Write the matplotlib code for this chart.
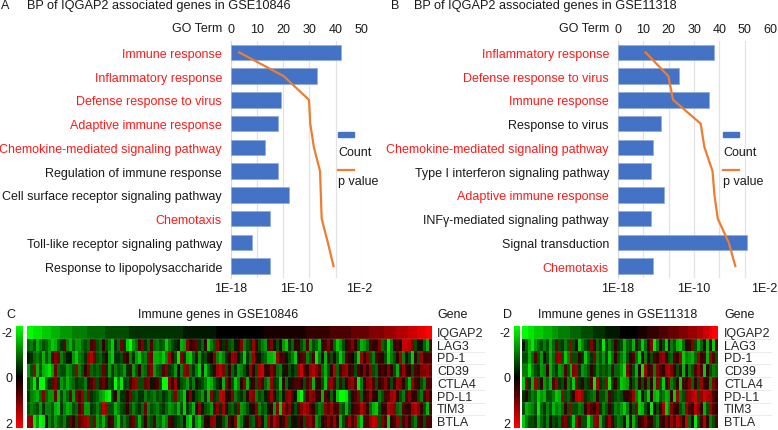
import numpy as np
import matplotlib
matplotlib.use("Agg")
import matplotlib.pyplot as plt
from matplotlib.colors import LinearSegmentedColormap
from matplotlib.lines import Line2D
from matplotlib.patches import Rectangle
from matplotlib.ticker import NullLocator
from matplotlib.transforms import ScaledTranslation

plt.rcParams['font.family'] = ['Liberation Sans', 'DejaVu Sans']
W, H = 778, 431
FS = 9.0

terms_a = ["Immune response", "Inflammatory response", "Defense response to virus",
           "Adaptive immune response", "Chemokine-mediated signaling pathway",
           "Regulation of immune response", "Cell surface receptor signaling pathway",
           "Chemotaxis", "Toll-like receptor signaling pathway", "Response to lipopolysaccharide"]
red_a = [1, 1, 1, 1, 1, 0, 0, 1, 0, 0]
count_a = [42, 33, 19, 18, 13, 18, 22, 15, 8, 15]
logp_a = [-17.0, -11.55, -8.45, -8.3, -7.85, -7.1, -7.0, -6.9, -6.15, -5.45]

terms_b = ["Inflammatory response", "Defense response to virus", "Immune response",
           "Response to virus", "Chemokine-mediated signaling pathway",
           "Type I interferon signaling pathway", "Adaptive immune response",
           "INF\u03b3-mediated signaling pathway", "Signal transduction", "Chemotaxis"]
red_b = [1, 1, 1, 0, 1, 0, 1, 0, 0, 1]
count_b = [38, 24, 36, 17, 14, 13, 18, 13, 51, 14]
logp_b = [-15.1, -12.7, -12.2, -9.3, -8.9, -8.05, -7.85, -7.5, -6.35, -5.65]

genes = ["IQGAP2", "LAG3", "PD-1", "CD39", "CTLA4", "PD-L1", "TIM3", "BTLA"]

# a = -2 (green) ... k = 0 (black) ... u = 2 (red)
heat_c = [
 "aabbbcccdddeeeefffffgggggghhhhhhhhiiiiiiiiiii" "iiiiiiijjjjjjjjjjjkkkkkkkkkkkkkkkklllllllllll" "lllmmmmmmmmnnnnnnnoooooopppppqqqqrrrrssstttuu",
 "gfhdfhgecdgiofdgeeghgnohgmhfcigoicaegnpigngfh" "gcfhimdepmnoigmcfhpminhgjmpfhiqmhfenpjhmecigm" "mhfnehgdmnpmgcehmnpmhdegnmmpghbfmnlssrphmjgdn",
 "jigfhdhenpofhjjecfgiqrohgimeciihnmfiecgfpodde" "cfqmhbpidcgneihmlpfdfimqpjhcigqmjhgddcqmnjhfc" "mnofhnbfmdnhmgcfnmlhcqmphfnmmhcfhmqfmhcmhqmnn",
 "ehqdhdcbeoghhefhqfhmpghghoieifhgeinehmfgopegh" "npihekfqpgifcncgimqrphmgiefhjqmhrsmmpngfjmhjh" "qsnmqrpngdhmrgnpqmnhnmpmqhgmnmpmhdnqmmhnmppqo",
 "hfbhaagiopiegdfgihhfmnphnomhiafbihnpqhhopjmnh" "aapmqjhgeifmihfcdgimdpmhcfmpdjmhpngeqihcmgjmn" "nmhnpdmmhcpqngnhmpqnbfmpqnhmnpmhmqpmhdqnmhfnn",
 "ifedgpgeeodhegoepnqgpihgedbaimeiimphgiifhgfhg" "ihfhpgfcmpjhgeidpihsrjmpfhigmqpfhgjnqmhfjpqnj" "cahnqpmmdnmgmcaabhmnpgmnqmmfhnnqrmhfnpmmhfnpm",
 "hfgheiffhdcifdehgnpeeihfhrqhhdfhimhfhigofhgfh" "igefgdhcigdmpjhgenpiqmhgipefhjmpfhgjmepcqnpjh" "nprqnmhfgpnqmnghdhmnnrpmgdchmmrqpgfnmmqrpmhdn",
 "qpbeabmfheghfiomhopqrhpegdhmnfchfhnohdhmghnfg" "dfnmihgmdbiecgmjpqjmhfnjpdfjmhgnpjfqnrpjnqhmj" "nmhpqnegmnpnqmdhnqmpfcnnqsrhpncmnqhnpmhfnmhnn",
]
heat_d = [
 "aabbcccdddeeffffgggghhhhiiiijjjjj" "kkkkkklllmmmmnnnoooopppqqqrrsstuu",
 "jgdbeghfhdgohifhqhmcfhipmgibifhmi" "hdghdnhcgmpbfmhcmfhdcgmmphdgmdncn",
 "hhdgnhemhdgpqhcfqhhmicgipfheicgmh" "fdhmngcmfmhnmpqmhgnmqcfedgqmndqnh",
 "ffbfhiefmdgiefnhdpqiefhmifhghfngg" "ebpmhdmbqmnfpnmqrpmhndmfhnqncmhfg",
 "cpidqhmegdnqihmfhcpimhinbqihqbimh" "cdemhfmhmgmdphcmpfhmcnmpgmhqmmfpn",
 "imhfgcedhhfcdqhgimrsqihgfmhhfnihg" "hmmnqfcmgcmdchfdemcqfhpqrshqsrqnm",
 "hdefhbgifhdfegmhqhhfgmpnmpifhmifg" "ecfmhpcdhmbmhmqcfpmmhfqnmrpmdhqnm",
 "cfhhidgifmhigopihcqnhhbfqpdhnqmhf" "gmcmdhmnpmmhfnmpmqnrpmsgmbhnrmfhn",
]


def px_axes(l, t, r, b):
    return fig.add_axes([l / W, 1 - b / H, (r - l) / W, (b - t) / H])


def ftext(x, y, s, **kw):
    kw.setdefault('fontsize', FS)
    kw.setdefault('va', 'center')
    kw.setdefault('color', '#1a1a1a')
    fig.text(x / W, 1 - y / H, s, **kw)


def go_panel(l, r, xmax, xticks, terms, reds, counts, logp, lx, lastshift):
    ax = px_axes(l, 41.5, r, 279)
    pos = np.arange(len(terms))
    ax.barh(pos, counts, height=0.66, color='#4472C4', edgecolor='#8FAADC', linewidth=0.5, zorder=3)
    ax.set_xlim(0, xmax)
    ax.set_ylim(len(terms) - 0.5, -0.5)
    ax.set_yticks(pos)
    ax.set_yticklabels(terms, fontsize=FS)
    ax.tick_params(axis='y', length=0, pad=6.5)
    for lab, rd in zip(ax.get_yticklabels(), reds):
        lab.set_color('#FF1A1A' if rd else '#1a1a1a')
    for s in ['top', 'right', 'bottom']:
        ax.spines[s].set_visible(False)
    ax.spines['left'].set_color('#D9D9D9')

    ax2 = ax.twiny()
    ax2.set_xscale('log')
    ax2.set_xlim(1e-18, 1e-2)
    ax2.plot([10.0 ** v for v in logp], pos, color='#ED7D31', lw=1.6, zorder=5)
    ax2.xaxis.tick_bottom()
    ax2.set_xticks([1e-18, 1e-10, 1e-2])
    ax2.set_xticklabels(['1E-18', '1E-10', '1E-2'], fontsize=FS, color='#1a1a1a')
    ax2.xaxis.set_minor_locator(NullLocator())
    ax2.tick_params(axis='x', which='both', length=0, pad=3)
    last = ax2.get_xticklabels()[-1]
    last.set_transform(last.get_transform() + ScaledTranslation(lastshift / 100, 0, fig.dpi_scale_trans))
    for s in ax2.spines.values():
        s.set_visible(False)

    ax.xaxis.tick_top()
    ax.set_xticks(list(xticks))
    ax.tick_params(axis='x', length=0, pad=4, labelsize=FS, labelcolor='#1a1a1a')
    ax.grid(axis='x', color='#E3E3E3', lw=0.9, zorder=0)
    ax.set_axisbelow(True)

    ftext(l - 8.5, 29, "GO Term", ha='right')
    fig.add_artist(Rectangle((lx / W, 1 - 138 / H), 16 / W, 5 / H, color='#4472C4', transform=fig.transFigure))
    ftext(lx, 153, "Count")
    fig.add_artist(Line2D([lx / W, (lx + 16) / W], [1 - 171 / H] * 2, color='#ED7D31', lw=1.6))
    ftext(lx, 182, "p value")


def heat_panel(l, r, cl, cr, rows, title, tx, gx, letter, letx):
    t, b = 327, 429
    n = min(len(s) for s in rows)
    data = np.array([[(ord(c) - ord('k')) / 5 for c in s[:n]] for s in rows])
    ax = px_axes(l, t, r, b)
    im = ax.imshow(data, cmap=cmap, vmin=-2, vmax=2, aspect='auto', interpolation='nearest')
    ax.set_xticks([])
    ax.set_yticks([])
    for y in np.arange(0.5, len(rows) - 0.5):
        ax.axhline(y, color='#999999', lw=0.35, alpha=0.6)
    for s in ax.spines.values():
        s.set_visible(False)
    cax = px_axes(cl, t, cr, b)
    cb = fig.colorbar(im, cax=cax)
    cax.invert_yaxis()
    cb.outline.set_visible(False)
    cax.yaxis.set_ticks_position('left')
    cb.set_ticks([-1.8, 0, 1.8], labels=['-2', '0', '2'])
    cax.tick_params(length=0, pad=2.5, labelsize=FS, labelcolor='#1a1a1a')
    ftext(tx, 315, title, ha='center')
    ftext(gx, 315, "Gene", ha='left')
    ftext(letx, 315, letter, ha='left')
    rh = (b - t) / len(genes)
    for i, g in enumerate(genes):
        ftext(gx, t + rh * (i + 0.5) + 0.5, g, ha='left', color='#262626')
        if i < len(genes) - 1:
            fig.add_artist(Line2D([gx / W, (gx + 47) / W], [1 - (t + rh * (i + 1)) / H] * 2,
                                  color='#E8E8E8', lw=0.6))


fig = plt.figure(figsize=(W / 100, H / 100), dpi=100)
cmap = LinearSegmentedColormap.from_list('gbr', ['#00FF00', '#000000', '#FF0000'])

go_panel(231, 361.7, 50, range(0, 51, 10), terms_a, red_a, count_a, logp_a, 338, -2.5)
go_panel(618, 770, 60, range(0, 61, 10), terms_b, red_b, count_b, logp_b, 723, -5.5)
ftext(1, 6, "A")
ftext(27, 6, "BP of IQGAP2 associated genes in GSE10846", fontsize=9.2)
ftext(391, 6, "B")
ftext(414, 6, "BP of IQGAP2 associated genes in GSE11318", fontsize=9.2)

heat_panel(27, 432, 16, 22.5, heat_c, "Immune genes in GSE10846", 218, 437, "C", 6)
heat_panel(522, 718, 513.5, 519.5, heat_d, "Immune genes in GSE11318", 618, 724, "D", 503)

fig.savefig('out.png', dpi=100)
